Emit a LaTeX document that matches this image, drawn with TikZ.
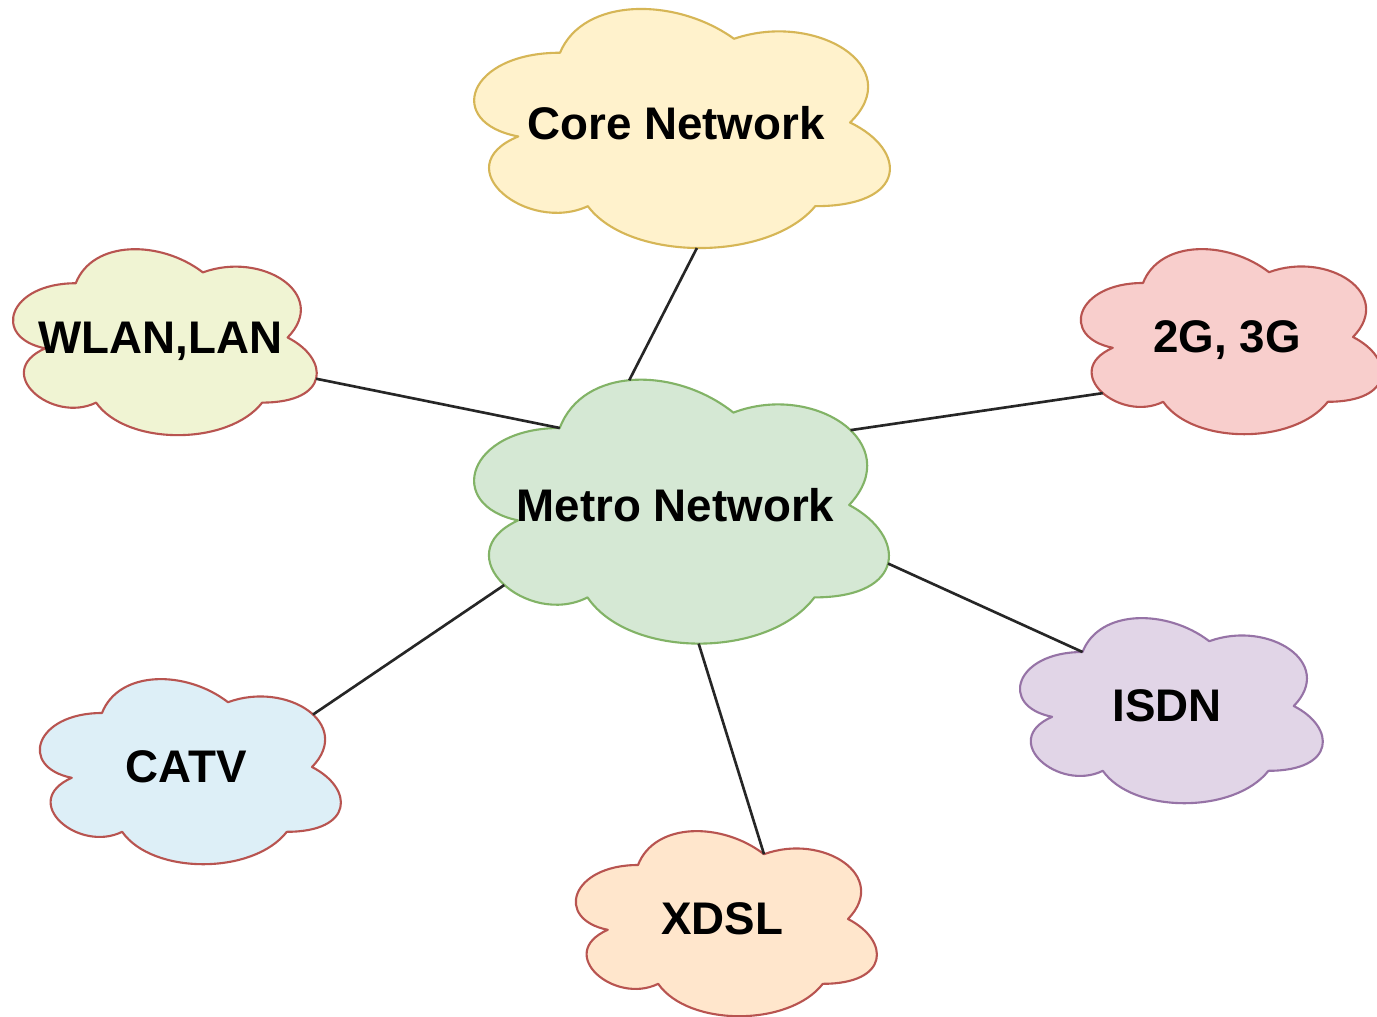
\documentclass[tikz,border=0pt]{standalone}
\usepackage{fontspec}
\setmainfont{Liberation Sans}

% fills and outlines of the clouds
\definecolor{corefill}{HTML}{FFF2CC}
\definecolor{coreline}{HTML}{D6B656}
\definecolor{metrofill}{HTML}{D5E8D4}
\definecolor{metroline}{HTML}{82B366}
\definecolor{wlanfill}{HTML}{F0F4D3}
\definecolor{mobilefill}{HTML}{F8CECC}
\definecolor{isdnfill}{HTML}{E1D5E7}
\definecolor{isdnline}{HTML}{9673A6}
\definecolor{catvfill}{HTML}{DDEFF7}
\definecolor{xdslfill}{HTML}{FFE6CC}
\definecolor{redline}{HTML}{B85450}

% cloud outline in the unit box (0,0)-(1,1), y running downwards
\newcommand{\cloudoutline}{(0.25,0.25)
  .. controls (0.05,0.25) and (0,0.5) .. (0.16,0.55)
  .. controls (0,0.66) and (0.18,0.9) .. (0.31,0.8)
  .. controls (0.4,1) and (0.7,1) .. (0.8,0.8)
  .. controls (1,0.8) and (1,0.6) .. (0.875,0.5)
  .. controls (1,0.3) and (0.8,0.1) .. (0.625,0.2)
  .. controls (0.5,0.05) and (0.3,0.05) .. (0.25,0.25) -- cycle}

\tikzset{
  box/.style n args={4}{shift={(#1,#2)}, x={(#3*0.01cm,0)}, y={(0,-#4*0.01cm)}},
  cloud/.style={line width=0.6pt, line join=round},
  cloudtext/.style={font=\bfseries\fontsize{13}{15}\selectfont, text=black,
    inner sep=0pt, text depth=0pt},
  link/.style={draw=black!85, line width=0.75pt},
}

\begin{document}
\begin{tikzpicture}[x=0.01cm, y=-0.01cm]
\fill[white] (0,0) rectangle (1377,1016);
\useasboundingbox (0,0) rectangle (1377,1016);

% Core Network
\begin{scope}[box={444}{-17}{464}{279}]
  \filldraw[cloud, fill=corefill, draw=coreline] \cloudoutline;
  \node[cloudtext] (core) at (0.5,0.5) {Core Network};
  \coordinate (core-s) at (0.545,0.95);
\end{scope}

% Metro Network
\begin{scope}[box={444}{351}{463}{308}]
  \filldraw[cloud, fill=metrofill, draw=metroline] \cloudoutline;
  \node[cloudtext] (metro) at (0.5,0.5) {Metro Network};
  \coordinate (metro-n)  at (0.40,0.095);
  \coordinate (metro-nw) at (0.25,0.25);
  \coordinate (metro-ne) at (0.878,0.257);
  \coordinate (metro-e)  at (0.959,0.69);
  \coordinate (metro-sw) at (0.13,0.76);
  \coordinate (metro-s)  at (0.55,0.95);
\end{scope}

% WLAN,LAN
\begin{scope}[box={-9}{229}{339}{217}]
  \filldraw[cloud, fill=wlanfill, draw=redline] \cloudoutline;
  \node[cloudtext] (wlan) at (0.5,0.5) {WLAN,LAN};
  \coordinate (wlan-e) at (0.959,0.69);
\end{scope}

% 2G, 3G
\begin{scope}[box={1059}{229}{336}{216}]
  \filldraw[cloud, fill=mobilefill, draw=redline] \cloudoutline;
  \node[cloudtext] (mobile) at (0.5,0.5) {2G, 3G};
  \coordinate (mobile-sw) at (0.13,0.76);
\end{scope}

% ISDN
\begin{scope}[box={998}{598}{338}{216}]
  \filldraw[cloud, fill=isdnfill, draw=isdnline] \cloudoutline;
  \node[cloudtext] (isdn) at (0.5,0.5) {ISDN};
  \coordinate (isdn-nw) at (0.25,0.25);
\end{scope}

% CATV
\begin{scope}[box={18}{659}{336}{216}]
  \filldraw[cloud, fill=catvfill, draw=redline] \cloudoutline;
  \node[cloudtext] (catv) at (0.5,0.5) {CATV};
  \coordinate (catv-ne) at (0.878,0.257);
\end{scope}

% XDSL
\begin{scope}[box={554}{811}{336}{216}]
  \filldraw[cloud, fill=xdslfill, draw=redline] \cloudoutline;
  \node[cloudtext] (xdsl) at (0.5,0.5) {XDSL};
  \coordinate (xdsl-n) at (0.625,0.2);
\end{scope}

% links from the metro network to the other networks
\draw[link] (metro-n)  -- (core-s);
\draw[link] (metro-nw) -- (wlan-e);
\draw[link] (metro-ne) -- (mobile-sw);
\draw[link] (metro-e)  -- (isdn-nw);
\draw[link] (metro-sw) -- (catv-ne);
\draw[link] (metro-s)  -- (xdsl-n);
\end{tikzpicture}
\end{document}
